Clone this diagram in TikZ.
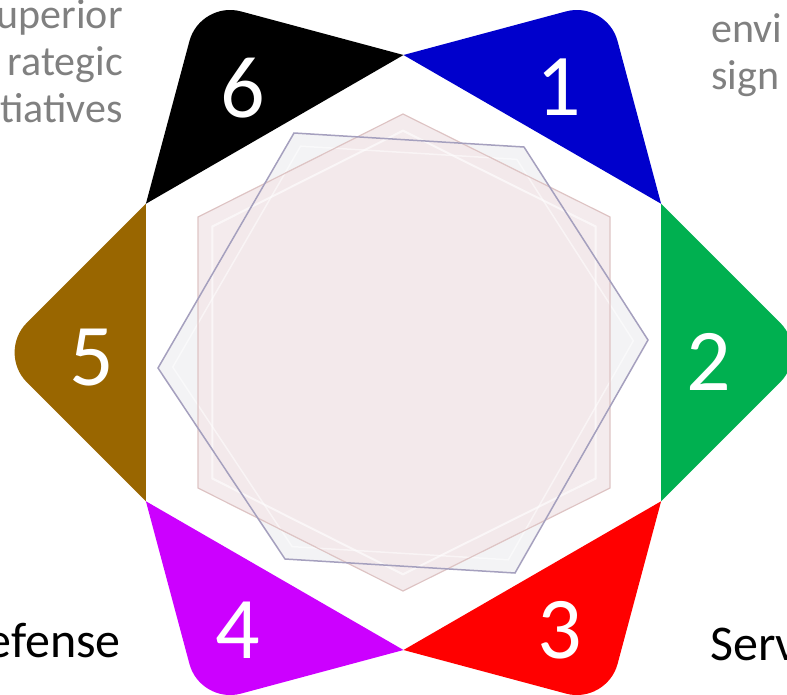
\documentclass[tikz,border=0pt]{standalone}
\usepackage{fontspec}
\setmainfont{Carlito}
\usetikzlibrary{calc}
\definecolor{petalblue}{RGB}{0,0,204}
\definecolor{petalgreen}{RGB}{0,176,80}
\definecolor{petalred}{RGB}{255,0,0}
\definecolor{petalpurple}{RGB}{204,0,255}
\definecolor{petalbrown}{RGB}{153,102,0}
\definecolor{sidegray}{RGB}{128,128,128}
\definecolor{pinkfill}{RGB}{243,233,235}
\definecolor{pinkedge}{RGB}{222,196,196}
\definecolor{lilacfill}{RGB}{243,243,245}
\definecolor{lilacedge}{RGB}{165,160,190}

% one coloured point of the star: two base corners, tip, colour
\newcommand{\petal}[4]{%
  \fill[#4] (#1) -- ($(#3)!42pt!(#1)$)
    .. controls ($(#3)!19pt!(#1)$) and ($(#3)!19pt!(#2)$) .. ($(#3)!42pt!(#2)$)
    -- (#2) -- cycle;}

\begin{document}
\begin{tikzpicture}[x=1pt,y=-1pt,
  num/.style={text=white,inner sep=0pt,font=\fontsize{88}{88}\selectfont},
  side/.style={text=sidegray,inner sep=0pt,font=\fontsize{42}{47}\selectfont},
  label/.style={text=black,inner sep=0pt,font=\fontsize{50}{60}\selectfont}]
  \useasboundingbox (0,0) rectangle (787,694);
  \clip (0,0) rectangle (787,694);

  % hexagon corners and tips
  \coordinate (c) at (403.5,352.5);
  \coordinate (h1) at (403.5,55);
  \coordinate (h2) at (661.1,203.75);
  \coordinate (h3) at (661.1,501.25);
  \coordinate (h4) at (403.5,650);
  \coordinate (h5) at (145.9,501.25);
  \coordinate (h6) at (145.9,203.75);
  \coordinate (t1) at (606.7,0.5);
  \coordinate (t2) at (809.9,352.5);
  \coordinate (t3) at (606.7,704.5);
  \coordinate (t4) at (200.3,704.5);
  \coordinate (t5) at (-2.9,352.5);
  \coordinate (t6) at (200.3,0.5);

  \petal{h1}{h2}{t1}{petalblue}
  \petal{h2}{h3}{t2}{petalgreen}
  \petal{h3}{h4}{t3}{petalred}
  \petal{h4}{h5}{t4}{petalpurple}
  \petal{h5}{h6}{t5}{petalbrown}
  \petal{h6}{h1}{t6}{black}

  % the two plates in the middle
  \coordinate (p1) at (403,114);
  \coordinate (p2) at (610,217);
  \coordinate (p3) at (610,488);
  \coordinate (p4) at (403,591);
  \coordinate (p5) at (198,488);
  \coordinate (p6) at (198,217);
  \coordinate (q1) at (294,133);
  \coordinate (q2) at (524,147);
  \coordinate (q3) at (648,340);
  \coordinate (q4) at (515,573);
  \coordinate (q5) at (285,559);
  \coordinate (q6) at (158,368);

  \fill[lilacfill] (q1) -- (q2) -- (q3) -- (q4) -- (q5) -- (q6) -- cycle;
  \fill[pinkfill,fill opacity=.9] (p1) -- (p2) -- (p3) -- (p4) -- (p5) -- (p6) -- cycle;
  \draw[white,opacity=.6,line width=2pt]
    ($(c)!.93!(p1)$) -- ($(c)!.93!(p2)$) -- ($(c)!.93!(p3)$) -- ($(c)!.93!(p4)$)
    -- ($(c)!.93!(p5)$) -- ($(c)!.93!(p6)$) -- cycle;
  \draw[white,opacity=.5,line width=1.5pt]
    ($(c)!.94!(q1)$) -- ($(c)!.94!(q2)$) -- ($(c)!.94!(q3)$) -- ($(c)!.94!(q4)$)
    -- ($(c)!.94!(q5)$) -- ($(c)!.94!(q6)$) -- cycle;
  \draw[pinkedge,line width=1.2pt] (p1) -- (p2) -- (p3) -- (p4) -- (p5) -- (p6) -- cycle;
  \draw[lilacedge,line width=1.5pt] (q1) -- (q2) -- (q3) -- (q4) -- (q5) -- (q6) -- cycle;

  % numbers
  \node[num] (n1) at (559,87) {1};
  \node[num] (n2) at (709,362) {2};
  \node[num] (n3) at (560,630) {3};
  \node[num] (n4) at (238,630) {4};
  \node[num] (n5) at (92,358) {5};
  \node[num] (n6) at (243,88) {6};

  % texts cut by the frame
  \node[side,anchor=base east] (s1) at (123,28) {uperior};
  \node[side,anchor=base east] (s2) at (123,75) {rategic};
  \node[side,anchor=base east] (s3) at (123,122) {tiatives};
  \node[side,anchor=base west] (e1) at (711,42) {envi};
  \node[side,anchor=base west] (e2) at (711,89) {sign};
  \node[label,anchor=base east] (d1) at (121,657) {efense};
  \node[label,anchor=base west] (v1) at (710,660) {Serv};
\end{tikzpicture}
\end{document}
